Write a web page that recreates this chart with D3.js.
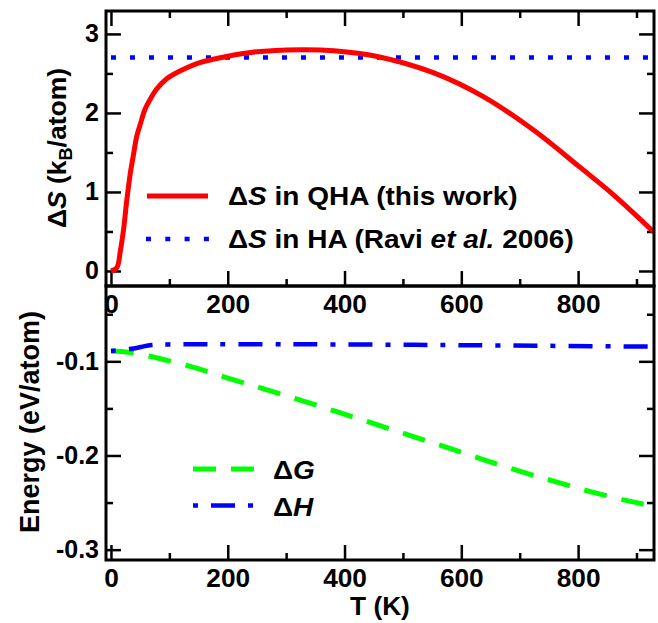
<!DOCTYPE html>
<html>
<head>
<meta charset="utf-8">
<script src="https://cdn.jsdelivr.net/npm/d3@7"></script>
<style>
  html, body { margin: 0; padding: 0; background: #fff; }
  svg text { font-family: "Liberation Sans", Arial, Helvetica, sans-serif; font-weight: bold; fill: #000; }
  .xt .tick text { transform-box: fill-box; transform-origin: center; transform: scaleX(1.05); }
  .leg text { transform-box: fill-box; transform-origin: left center; transform: scaleX(1.12); }
  .xlab { transform-box: fill-box; transform-origin: center; transform: scaleX(1.05); }
</style>
</head>
<body>
<svg id="chart" width="658" height="623"></svg>
<script>
// ---------- data ----------
const tQHA = [0, 10, 16, 22, 27, 33, 39, 44, 50, 58, 67, 78, 95, 118, 147, 175, 240, 325, 382, 456, 552, 637, 723, 802, 865, 930];
const sQHA = [0, 0.04, 0.25, 0.55, 0.89, 1.23, 1.49, 1.70, 1.85, 2.04, 2.17, 2.30, 2.43, 2.53, 2.625, 2.68, 2.766, 2.80, 2.787, 2.715, 2.51, 2.21, 1.787, 1.32, 0.936, 0.49];
const tHA = [0, 930];
const sHA = [2.70, 2.70];
const tG = [0, 22, 50, 83, 145, 206, 270, 331, 392, 453, 514, 575, 636, 697, 761, 821, 884, 930];
const eG = [-0.0890, -0.0898, -0.0925, -0.0970, -0.1070, -0.1190, -0.1308, -0.1425, -0.1546, -0.1668, -0.1791, -0.1915, -0.2040, -0.2162, -0.2278, -0.2384, -0.2480, -0.2540];
const tH = [0, 32, 70, 100, 150, 300, 470, 650, 930];
const eH = [-0.0890, -0.0870, -0.0827, -0.0820, -0.0818, -0.0819, -0.0823, -0.0831, -0.0844];
const xMajor = [0, 200, 400, 600, 800];
const xMinor = [100, 300, 500, 700, 900];
const sMajor = [0, 1, 2, 3];
const sMinor = [0.5, 1.5, 2.5];
const eMajor = [-0.3, -0.2, -0.1];
const eMinor = [-0.25, -0.15, -0.05];

// ---------- layout ----------
const svg = d3.select("#chart");
const L = 106, R = 654;
const top1 = 11, bot1 = 286, top2 = 286, bot2 = 560;
const FS = 25;

const x = d3.scaleLinear().domain([-8.5, 930]).range([L, R]);
const yS = d3.scaleLinear().domain([-0.19, 3.29]).range([bot1, top1]);
const yE = d3.scaleLinear().domain([-0.311, -0.02]).range([bot2, top2]);

const MAJ = 15, MIN = 7;

function styleAxis(g) {
  g.select(".domain").remove();
  g.selectAll(".tick line").attr("stroke", "#000").attr("stroke-width", 2.5);
  g.selectAll(".tick text").style("font-size", FS + "px");
}

const defs = svg.append("defs");
defs.append("clipPath").attr("id", "c1").append("rect")
  .attr("x", L).attr("y", top1).attr("width", R - L).attr("height", bot1 - top1);
defs.append("clipPath").attr("id", "c2").append("rect")
  .attr("x", L).attr("y", top2).attr("width", R - L).attr("height", bot2 - top2);

const lineS = d3.line().x(d => x(d[0])).y(d => yS(d[1])).curve(d3.curveCatmullRom.alpha(0.5));
const lineE = d3.line().x(d => x(d[0])).y(d => yE(d[1])).curve(d3.curveCatmullRom.alpha(0.5));

// ---------- panel 1 : entropy ----------
const p1 = svg.append("g");
p1.append("g").attr("class", "xt").attr("transform", `translate(0,${bot1})`)
  .call(d3.axisBottom(x).tickValues(xMajor).tickSize(-MAJ).tickPadding(9).tickFormat(d3.format("d"))).call(styleAxis);
p1.append("g").attr("transform", `translate(0,${bot1})`)
  .call(d3.axisBottom(x).tickValues(xMinor).tickSize(-MIN).tickFormat("")).call(styleAxis);
p1.append("g").attr("transform", `translate(0,${top1})`)
  .call(d3.axisTop(x).tickValues(xMajor).tickSize(-MAJ).tickFormat("")).call(styleAxis);
p1.append("g").attr("transform", `translate(0,${top1})`)
  .call(d3.axisTop(x).tickValues(xMinor).tickSize(-MIN).tickFormat("")).call(styleAxis);
p1.append("g").attr("transform", `translate(${L},0)`)
  .call(d3.axisLeft(yS).tickValues(sMajor).tickSize(-MAJ).tickPadding(7).tickFormat(d3.format("d"))).call(styleAxis);
p1.append("g").attr("transform", `translate(${L},0)`)
  .call(d3.axisLeft(yS).tickValues(sMinor).tickSize(-MIN).tickFormat("")).call(styleAxis);
p1.append("g").attr("transform", `translate(${R},0)`)
  .call(d3.axisRight(yS).tickValues(sMajor).tickSize(-MAJ).tickFormat("")).call(styleAxis);
p1.append("g").attr("transform", `translate(${R},0)`)
  .call(d3.axisRight(yS).tickValues(sMinor).tickSize(-MIN).tickFormat("")).call(styleAxis);

const curves1 = p1.append("g").attr("clip-path", "url(#c1)");
curves1.append("path").datum(d3.zip(tHA, sHA)).attr("d", lineS)
  .attr("fill", "none").attr("stroke", "#0000ff").attr("stroke-width", 4.5).attr("stroke-dasharray", "5 14");
curves1.append("path").datum(d3.zip(tQHA, sQHA)).attr("d", lineS)
  .attr("fill", "none").attr("stroke", "#ff0000").attr("stroke-width", 5).attr("stroke-linejoin", "round");

p1.append("rect").attr("x", L).attr("y", top1).attr("width", R - L).attr("height", bot1 - top1)
  .attr("fill", "none").attr("stroke", "#000").attr("stroke-width", 3);

const yl1 = p1.append("text").attr("transform", `translate(66,148) rotate(-90)`)
  .attr("text-anchor", "middle").style("font-size", "26.5px");
yl1.append("tspan").text("\u0394");
yl1.append("tspan").style("font-style", "italic").text("S");
yl1.append("tspan").text(" (k");
yl1.append("tspan").attr("dy", 6).style("font-size", "18px").text("B");
yl1.append("tspan").attr("dy", -6).text("/atom)");

const leg1 = p1.append("g").attr("class", "leg");
leg1.append("line").attr("x1", 147).attr("x2", 208).attr("y1", 196).attr("y2", 196)
  .attr("stroke", "#ff0000").attr("stroke-width", 5);
leg1.append("line").attr("x1", 146).attr("x2", 210).attr("y1", 239).attr("y2", 239)
  .attr("stroke", "#0000ff").attr("stroke-width", 4.5).attr("stroke-dasharray", "5 14.3");
const lt1 = leg1.append("text").attr("x", 228).attr("y", 205).style("font-size", FS + "px");
lt1.append("tspan").text("\u0394");
lt1.append("tspan").style("font-style", "italic").text("S");
lt1.append("tspan").text(" in QHA (this work)");
const lt2 = leg1.append("text").attr("x", 228).attr("y", 248).style("font-size", FS + "px");
lt2.append("tspan").text("\u0394");
lt2.append("tspan").style("font-style", "italic").text("S");
lt2.append("tspan").text(" in HA (Ravi ");
lt2.append("tspan").style("font-style", "italic").text("et al.");
lt2.append("tspan").text(" 2006)");

// ---------- panel 2 : energy ----------
const p2 = svg.append("g");
p2.append("g").attr("class", "xt").attr("transform", `translate(0,${bot2})`)
  .call(d3.axisBottom(x).tickValues(xMajor).tickSize(-MAJ).tickPadding(9).tickFormat(d3.format("d"))).call(styleAxis);
p2.append("g").attr("transform", `translate(0,${bot2})`)
  .call(d3.axisBottom(x).tickValues(xMinor).tickSize(-MIN).tickFormat("")).call(styleAxis);
p2.append("g").attr("transform", `translate(${L},0)`)
  .call(d3.axisLeft(yE).tickValues(eMajor).tickSize(-MAJ).tickPadding(7).tickFormat(d => d3.format(".1f")(d).replace("\u2212", "-"))).call(styleAxis);
p2.append("g").attr("transform", `translate(${L},0)`)
  .call(d3.axisLeft(yE).tickValues(eMinor).tickSize(-MIN).tickFormat("")).call(styleAxis);
p2.append("g").attr("transform", `translate(${R},0)`)
  .call(d3.axisRight(yE).tickValues(eMajor).tickSize(-MAJ).tickFormat("")).call(styleAxis);
p2.append("g").attr("transform", `translate(${R},0)`)
  .call(d3.axisRight(yE).tickValues(eMinor).tickSize(-MIN).tickFormat("")).call(styleAxis);

const curves2 = p2.append("g").attr("clip-path", "url(#c2)");
curves2.append("path").datum(d3.zip(tG, eG)).attr("d", lineE)
  .attr("fill", "none").attr("stroke", "#00ff00").attr("stroke-width", 5).attr("stroke-dasharray", "23 15");
curves2.append("path").datum(d3.zip(tH, eH)).attr("d", lineE)
  .attr("fill", "none").attr("stroke", "#0000ff").attr("stroke-width", 4.5).attr("stroke-dasharray", "5 13 24 13");

p2.append("rect").attr("x", L).attr("y", top2).attr("width", R - L).attr("height", bot2 - top2)
  .attr("fill", "none").attr("stroke", "#000").attr("stroke-width", 3);

p2.append("text").attr("transform", `translate(39,422) rotate(-90)`)
  .attr("text-anchor", "middle").style("font-size", "27px").text("Energy (eV/atom)");

const leg2 = p2.append("g").attr("class", "leg");
leg2.append("line").attr("x1", 193).attr("x2", 256).attr("y1", 469).attr("y2", 469)
  .attr("stroke", "#00ff00").attr("stroke-width", 5).attr("stroke-dasharray", "23 15");
leg2.append("line").attr("x1", 193).attr("x2", 256).attr("y1", 505.5).attr("y2", 505.5)
  .attr("stroke", "#0000ff").attr("stroke-width", 4.5).attr("stroke-dasharray", "5 13 24 13");
const lg = leg2.append("text").attr("x", 273).attr("y", 479).style("font-size", FS + "px");
lg.append("tspan").text("\u0394");
lg.append("tspan").style("font-style", "italic").text("G");
const lh = leg2.append("text").attr("x", 273).attr("y", 516).style("font-size", FS + "px");
lh.append("tspan").text("\u0394");
lh.append("tspan").style("font-style", "italic").text("H");

svg.append("text").attr("class", "xlab").attr("x", (L + R) / 2).attr("y", 615).attr("text-anchor", "middle")
  .style("font-size", "25px").text("T (K)");
</script>
</body>
</html>
